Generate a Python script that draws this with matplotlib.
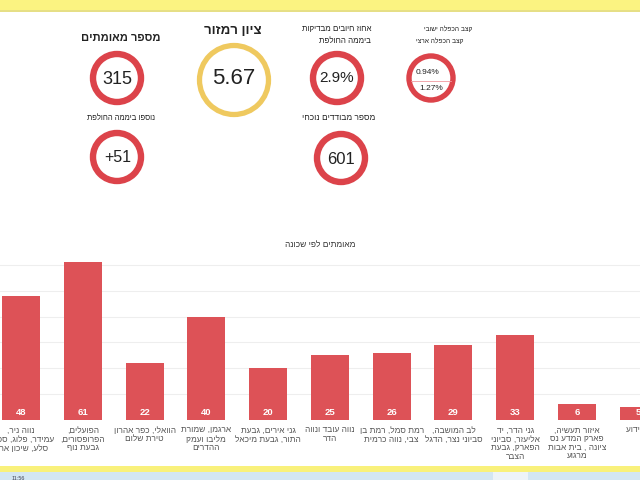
import matplotlib
matplotlib.use('Agg')
import matplotlib.pyplot as plt
from matplotlib.patches import Circle, Rectangle

plt.rcParams['font.family'] = ['Liberation Sans', 'DejaVu Sans']

# ---------------- data ----------------
neighborhoods = [
    "נווה ניר,\nעמידר, פלוג, ספיר,\nסלע, שיכון אחר",
    "הפועלים,\nהפרופסורים,\nגבעת נוף",
    "הוואלי, כפר אהרון\nטירת שלום",
    "ארגמן, שמורת\nמליבו ועמק\nההדרים",
    "גני אירים, גבעת\nהתור, גבעת מיכאל",
    "נווה עובד ונווה\nהדר",
    "רמת סמל, רמת בן\nצבי, נווה כרמית",
    "לב המושבה,\nסביוני נצר, הדגל",
    "גני הדר, יד\nאליעזר, סביוני\nהפארק, גבעת\nהצבר",
    "איזור תעשיה,\nפארק המדע נס\nציונה , בית אבות\nמרגוע",
    "לא ידוע",
]
cases = [48, 61, 22, 40, 20, 25, 26, 29, 33, 6, 5]

chart_title = "מאומתים לפי שכונה"
total_title = "מספר מאומתים"
total_value = "315"
new_title = "נוספו ביממה החולפת"
new_value = "+51"
score_title = "ציון רמזור"
score_value = "5.67"
pos_title = "אחוז חיובים מבדיקות\nביממה החולפת"
pos_value = "2.9%"
iso_title = "מספר מבודדים נוכחי"
iso_value = "601"
dbl_title_1 = "קצב הכפלה ישובי"
dbl_title_2 = "קצב הכפלה ארצי"
dbl_local = "0.94%"
dbl_national = "1.27%"
clock_text = "11:56"


def rtl(s):
    return "\n".join(line[::-1] for line in s.split("\n"))


RED = "#dc434a"
BAR = "#dd5257"
YEL = "#efc95f"
TXT = "#222222"

fig = plt.figure(figsize=(6.4, 4.8), dpi=100)
fig.patch.set_facecolor("white")

# overlay in pixel coordinates (y down)
ov = fig.add_axes([0, 0, 1, 1])
ov.set_xlim(0, 640)
ov.set_ylim(480, 0)
ov.axis("off")

# bands
ov.add_patch(Rectangle((0, 0), 640, 11, color="#fbf381", lw=0))
ov.add_patch(Rectangle((0, 10), 640, 1.5, color="#e6df86", lw=0))
ov.add_patch(Rectangle((0, 465.5), 640, 6.5, color="#f9f17b", lw=0, zorder=5))
ov.add_patch(Rectangle((0, 472), 640, 8, color="#d3e6f3", lw=0, zorder=5))
ov.add_patch(Rectangle((493, 472), 35, 8, color="#edf3f8", lw=0, zorder=5))
ov.text(12, 478, clock_text, fontsize=4, color="#445", ha="left", va="center", zorder=6)


def ring(x, y, r, color, lw):
    ov.add_patch(Circle((x, y), r, fill=False, ec=color, lw=lw))


# total confirmed
ov.text(121, 38, rtl(total_title), fontsize=8, fontweight="bold", color=TXT, ha="center", va="center")
ring(117, 78, 24, RED, 4.6)
ov.text(117, 79, total_value, fontsize=13, color=TXT, ha="center", va="center")

# new last day
ov.text(121, 118, rtl(new_title), fontsize=5.5, color=TXT, ha="center", va="center")
ring(117, 157, 24, RED, 4.6)
ov.text(118, 158, new_value, fontsize=11.5, color=TXT, ha="center", va="center")

# traffic light score
ov.text(233, 31, rtl(score_title), fontsize=9.5, fontweight="bold", color=TXT, ha="center", va="center")
ring(234, 80, 34.5, YEL, 3.8)
ov.text(234, 79, score_value, fontsize=16, color=TXT, ha="center", va="center")

# positive rate
ov.text(371, 35, rtl(pos_title), fontsize=5.8, color=TXT, ha="right", va="center", linespacing=2.0)
ring(337, 78, 24, RED, 4.6)
ov.text(337, 78, pos_value, fontsize=11, color=TXT, ha="center", va="center")

# isolated
ov.text(339, 118, rtl(iso_title), fontsize=6, color=TXT, ha="center", va="center")
ring(341, 158, 24, RED, 4.6)
ov.text(341, 159, iso_value, fontsize=12, color=TXT, ha="center", va="center")

# doubling rate
ov.text(472, 30, rtl(dbl_title_1), fontsize=4.8, color=TXT, ha="right", va="center")
ov.text(463, 42, rtl(dbl_title_2), fontsize=4.8, color=TXT, ha="right", va="center")
ring(431, 78, 22, RED, 3.9)
ov.plot([411, 451], [81, 81], color="#f09aa0", lw=0.6)
ov.text(428, 73, dbl_local, fontsize=6, color=TXT, ha="center", va="center")
ov.text(431, 89, dbl_national, fontsize=6, color=TXT, ha="center", va="center")

# chart title
ov.text(320, 245, rtl(chart_title), fontsize=6, color="#333333", ha="center", va="center")

# ---------------- bar chart ----------------
ax = fig.add_axes([0, 0.125, 1, 0.35])
ax.patch.set_alpha(0)
x = list(range(len(cases)))
bars = ax.bar(x, cases, width=0.615, color=BAR, zorder=2)
ax.set_xlim(-0.34, 10.02)
ax.set_ylim(0, 65)
ax.set_yticks([10, 20, 30, 40, 50, 60])
ax.yaxis.grid(True, color="#eeeeee", lw=0.8, zorder=0)
ax.tick_params(axis="y", left=False, labelleft=False)
for s in ax.spines.values():
    s.set_visible(False)
ax.set_xticks(x)
ax.set_xticklabels([rtl(n) for n in neighborhoods], fontsize=6.0, color="#555555")
ax.tick_params(axis="x", length=0, pad=5)
for t in ax.get_xticklabels():
    t.set_linespacing(1.35)
for xi, v in zip(x, cases):
    ax.annotate(str(v), (xi, 0), xytext=(0, 5.5), textcoords="offset points",
                ha="center", va="center", fontsize=6.8, fontweight="bold", color="white", zorder=3)

fig.savefig("out.png", dpi=100)
